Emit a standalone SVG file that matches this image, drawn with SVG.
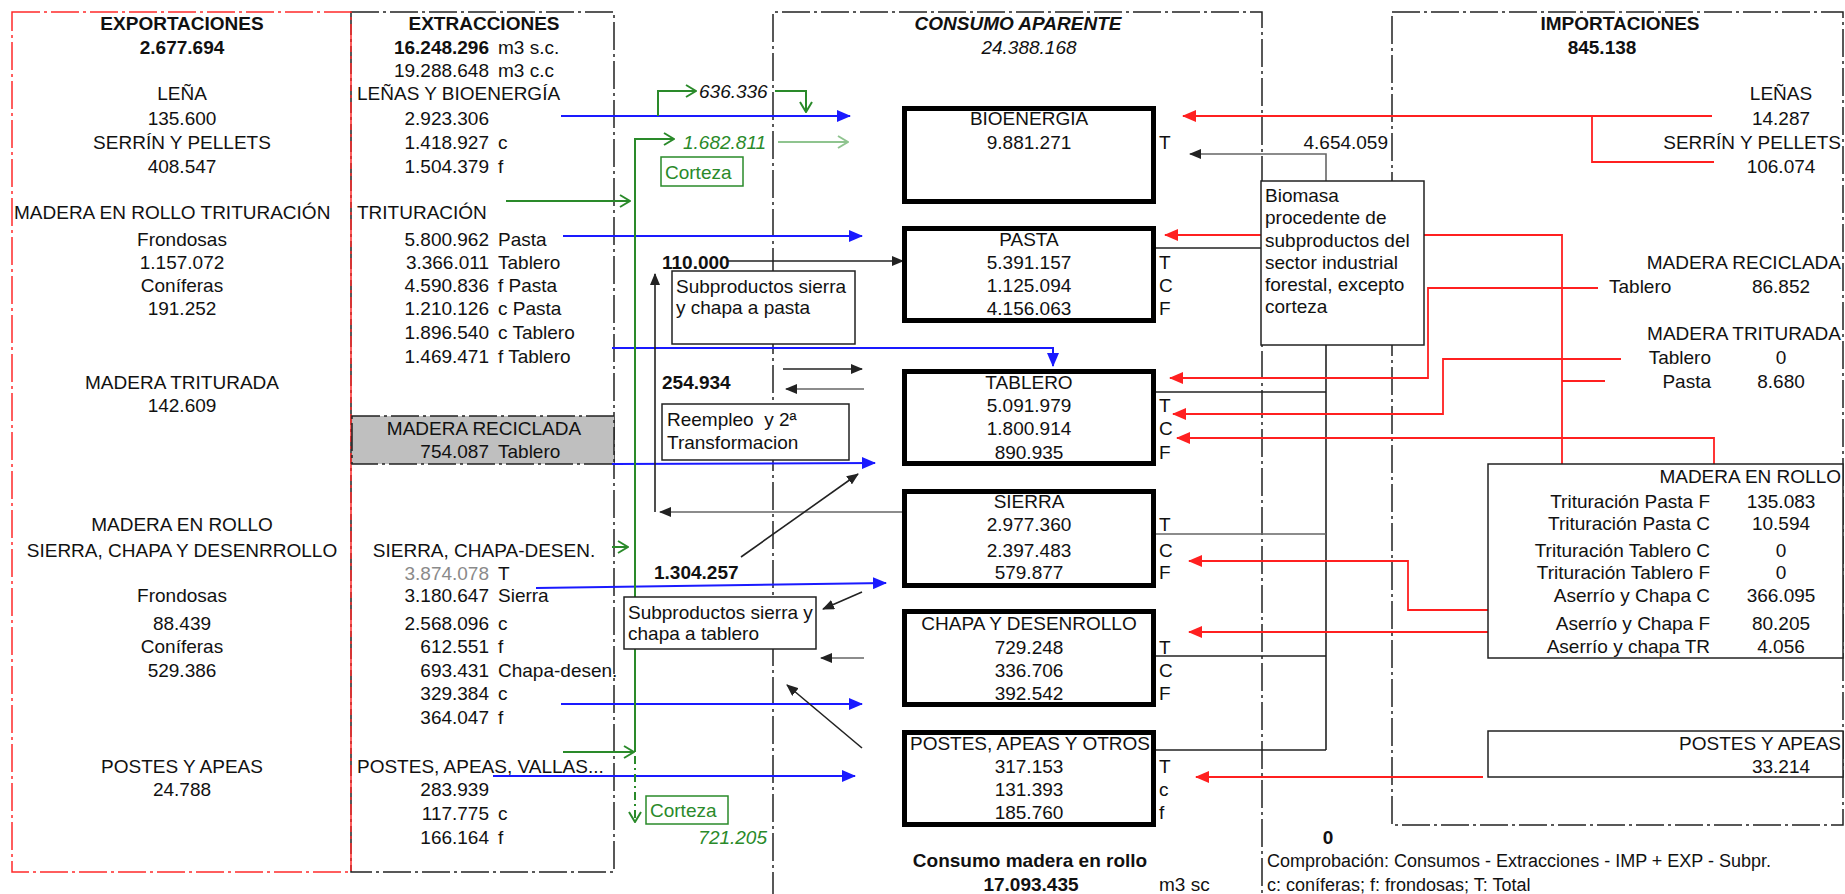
<svg xmlns="http://www.w3.org/2000/svg" width="1845" height="894" viewBox="0 0 1845 894">
<style>
text{font-family:"Liberation Sans",Arial,sans-serif;font-size:19px;fill:#111}
.b{font-weight:bold}
.i{font-style:italic}
.m{text-anchor:middle}
.e{text-anchor:end}
.s{font-size:18px}
.g{fill:#2a8a2a}
.gray{fill:#8a8a8a}
.frame{fill:none;stroke:#222;stroke-width:1.5;stroke-dasharray:28 4 3 4}
.rframe{fill:none;stroke:#ff2a2a;stroke-width:1.5;stroke-dasharray:28 4 3 4}
.thick{fill:#fff;stroke:#000;stroke-width:5}
.lbl{fill:#fff;stroke:#222;stroke-width:1.5}
.gbox{fill:#fff;stroke:#2a8a2a;stroke-width:1.5}
.blue{fill:none;stroke:#1a1aff;stroke-width:2;marker-end:url(#ab)}
.red{fill:none;stroke:#ff2020;stroke-width:1.8}
.blk{fill:none;stroke:#222;stroke-width:1.6}
.blkA{marker-end:url(#ak)}
.gry{stroke:#666}
.grn{fill:none;stroke:#2a8a2a;stroke-width:2}
.grnA{marker-end:url(#ag)}
</style>
<defs>
<marker id="ab" markerUnits="userSpaceOnUse" markerWidth="14" markerHeight="12" viewBox="0 0 14 12" refX="13" refY="6" orient="auto"><path d="M0,0 L14,6 L0,12 z" fill="#1a1aff"/></marker>
<marker id="ar" markerUnits="userSpaceOnUse" markerWidth="14" markerHeight="12" viewBox="0 0 14 12" refX="13" refY="6" orient="auto"><path d="M0,0 L14,6 L0,12 z" fill="#ff2020"/></marker>
<marker id="ak" markerUnits="userSpaceOnUse" markerWidth="12" markerHeight="10" viewBox="0 0 12 10" refX="11" refY="5" orient="auto"><path d="M0,0 L12,5 L0,10 z" fill="#222"/></marker>
<marker id="ag" markerUnits="userSpaceOnUse" markerWidth="12" markerHeight="14" viewBox="0 0 12 14" refX="11" refY="7" orient="auto"><path d="M1,1 L11,7 L1,13" fill="none" stroke="#2a8a2a" stroke-width="2"/></marker>
<marker id="agl" markerUnits="userSpaceOnUse" markerWidth="12" markerHeight="14" viewBox="0 0 12 14" refX="11" refY="7" orient="auto"><path d="M1,1 L11,7 L1,13" fill="none" stroke="#8fc48f" stroke-width="2"/></marker>
</defs>
<rect width="1845" height="894" fill="#fff"/>

<g id="frames">
<rect class="frame" x="351" y="12" width="263" height="860"/>
<rect class="rframe" x="12" y="12" width="339" height="860"/>
<path class="frame" d="M773,900 V12 H1262 V900"/>
<rect class="frame" x="1392" y="12" width="451" height="813"/>
</g>

<g id="exportaciones">
<text class="b m" x="182" y="29.5">EXPORTACIONES</text>
<text class="b m" x="182" y="53.5">2.677.694</text>
<text class="m" x="182" y="99.5">LEÑA</text>
<text class="m" x="182" y="124.5">135.600</text>
<text class="m" x="182" y="148.5">SERRÍN Y PELLETS</text>
<text class="m" x="182" y="172.5">408.547</text>
<text x="14" y="218.5">MADERA EN ROLLO TRITURACIÓN</text>
<text class="m" x="182" y="245.5">Frondosas</text>
<text class="m" x="182" y="268.5">1.157.072</text>
<text class="m" x="182" y="291.5">Coníferas</text>
<text class="m" x="182" y="314.5">191.252</text>
<text class="m" x="182" y="388.5">MADERA TRITURADA</text>
<text class="m" x="182" y="411.5">142.609</text>
<text class="m" x="182" y="530.5">MADERA EN ROLLO</text>
<text class="m" x="182" y="556.5">SIERRA, CHAPA Y DESENRROLLO</text>
<text class="m" x="182" y="601.5">Frondosas</text>
<text class="m" x="182" y="629.5">88.439</text>
<text class="m" x="182" y="652.5">Coníferas</text>
<text class="m" x="182" y="676.5">529.386</text>
<text class="m" x="182" y="772.5">POSTES Y APEAS</text>
<text class="m" x="182" y="795.5">24.788</text>
</g>

<g id="extracciones">
<text class="b m" x="484" y="29.5">EXTRACCIONES</text>
<text class="b e" x="489" y="53.5">16.248.296</text><text x="498" y="53.5">m3 s.c.</text>
<text class="e" x="489" y="76.5">19.288.648</text><text x="498" y="76.5">m3 c.c</text>
<text x="357" y="99.5">LEÑAS Y BIOENERGÍA</text>
<text class="e" x="489" y="124.5">2.923.306</text>
<text class="e" x="489" y="148.5">1.418.927</text><text x="498" y="148.5">c</text>
<text class="e" x="489" y="172.5">1.504.379</text><text x="498" y="172.5">f</text>
<text x="357" y="218.5">TRITURACIÓN</text>
<text class="e" x="489" y="245.5">5.800.962</text><text x="498" y="245.5">Pasta</text>
<text class="e" x="489" y="268.5">3.366.011</text><text x="498" y="268.5">Tablero</text>
<text class="e" x="489" y="291.5">4.590.836</text><text x="498" y="291.5">f Pasta</text>
<text class="e" x="489" y="314.5">1.210.126</text><text x="498" y="314.5">c Pasta</text>
<text class="e" x="489" y="338.5">1.896.540</text><text x="498" y="338.5">c Tablero</text>
<text class="e" x="489" y="362.5">1.469.471</text><text x="498" y="362.5">f Tablero</text>
<text class="m" x="484" y="556.5">SIERRA, CHAPA-DESEN.</text>
<text class="e gray" x="489" y="579.5">3.874.078</text><text x="498" y="579.5">T</text>
<text class="e" x="489" y="601.5">3.180.647</text><text x="498" y="601.5">Sierra</text>
<text class="e" x="489" y="629.5">2.568.096</text><text x="498" y="629.5">c</text>
<text class="e" x="489" y="652.5">612.551</text><text x="498" y="652.5">f</text>
<text class="e" x="489" y="676.5">693.431</text><text x="498" y="676.5">Chapa-desen.</text>
<text class="e" x="489" y="699.5">329.384</text><text x="498" y="699.5">c</text>
<text class="e" x="489" y="723.5">364.047</text><text x="498" y="723.5">f</text>
<text x="357" y="772.5">POSTES, APEAS, VALLAS...</text>
<text class="e" x="489" y="795.5">283.939</text>
<text class="e" x="489" y="819.5">117.775</text><text x="498" y="819.5">c</text>
<text class="e" x="489" y="843.5">166.164</text><text x="498" y="843.5">f</text>
</g>

<g id="madera-reciclada">
<rect x="352" y="416" width="262" height="48" fill="#bfbfbf" stroke="#222" stroke-width="1.5" stroke-dasharray="28 4 3 4"/>
<text class="m" x="484" y="434.5">MADERA RECICLADA</text>
<text class="e" x="489" y="457.5">754.087</text><text x="498" y="457.5">Tablero</text>
</g>

<g id="connectors">
<path class="blue" d="M561,116 H850"/>
<path class="blue" d="M563,236 H862"/>
<path class="blue" d="M612,348 H1053 V366"/>
<path class="blue" d="M612,464 L875,463"/>
<path class="blue" d="M536,588 L886,583"/>
<path class="blue" d="M561,704 H862"/>
<path class="blue" d="M493,776 H855"/>
<path class="grn grnA" d="M658,116 V91 H696"/>
<path class="grn grnA" d="M775,91 H806 V112"/>
<path class="grn grnA" d="M635,752 V139 H674"/>
<path class="grn grnA" d="M506,201 H630"/>
<path class="grn grnA" d="M612,547 H628"/>
<path class="grn grnA" d="M563,752 H634"/>
<path class="grn grnA" d="M635,756 V822" stroke-dasharray="8 4 2 4"/>
<path fill="none" stroke="#8fc48f" stroke-width="2" marker-end="url(#agl)" d="M778,142 H848"/>
<path class="blk blkA" d="M728,261 H903"/>
<path class="blk blkA gry" d="M902,512 H660"/>
<path class="blk blkA" d="M655,512 V274"/>
<path class="blk blkA" d="M783,369 H862"/>
<path class="blk blkA gry" d="M864,389 H786"/>
<path class="blk blkA" d="M741,557 L858,474"/>
<path class="blk blkA" d="M862,592 L823,609"/>
<path class="blk blkA gry" d="M864,658 H821"/>
<path class="blk blkA" d="M862,748 L787,685"/>
<path class="blk blkA gry" d="M1326,181 V154 H1190"/>
<path class="blk" d="M1156,248 H1261"/>
<path class="blk" d="M1326,345 V750"/>
<path class="blk" d="M1156,392 H1326"/>
<path class="blk gry" d="M1156,534 H1326"/>
<path class="blk" d="M1156,656 H1326"/>
<path class="blk" d="M1156,750 H1326"/>
<path class="red" d="M1712,116 H1183" marker-end="url(#ar)"/>
<path class="red" d="M1592,116 V162 H1714"/>
<path class="red" d="M1562,464 V235 H1165" marker-end="url(#ar)"/>
<path class="red" d="M1562,381 H1605"/>
<path class="red" d="M1598,288 H1428 V378 H1170" marker-end="url(#ar)"/>
<path class="red" d="M1621,359 H1443 V414 H1173" marker-end="url(#ar)"/>
<path class="red" d="M1714,464 V438 H1177" marker-end="url(#ar)"/>
<path class="red" d="M1488,610 H1408 V561 H1189" marker-end="url(#ar)"/>
<path class="red" d="M1488,632 H1189" marker-end="url(#ar)"/>
<path class="red" d="M1483,777 H1196" marker-end="url(#ar)"/>
</g>

<g id="consumo">
<text class="b i m" x="1018" y="29.5">CONSUMO APARENTE</text>
<text class="i m" x="1029" y="53.5">24.388.168</text>
<text class="b m" x="1030" y="866.5">Consumo madera en rollo</text>
<text class="b m" x="1031" y="890.5">17.093.435</text>
<text x="1159" y="890.5">m3 sc</text>
</g>

<g id="bioenergia">
<rect class="thick" x="904.5" y="108.5" width="249" height="93"/>
<text class="m" x="1029" y="124.5">BIOENERGIA</text>
<text class="m" x="1029" y="148.5">9.881.271</text>
<text x="1159" y="148.5">T</text>
</g>

<g id="pasta">
<rect class="thick" x="904.5" y="228.5" width="249" height="92"/>
<text class="m" x="1029" y="245.5">PASTA</text>
<text class="m" x="1029" y="268.5">5.391.157</text>
<text class="m" x="1029" y="291.5">1.125.094</text>
<text class="m" x="1029" y="314.5">4.156.063</text>
<text x="1159" y="268.5">T</text><text x="1159" y="291.5">C</text><text x="1159" y="314.5">F</text>
</g>

<g id="tablero">
<rect class="thick" x="904.5" y="371.5" width="249" height="92"/>
<text class="m" x="1029" y="388.5">TABLERO</text>
<text class="m" x="1029" y="411.5">5.091.979</text>
<text class="m" x="1029" y="434.5">1.800.914</text>
<text class="m" x="1029" y="458.5">890.935</text>
<text x="1159" y="411.5">T</text><text x="1159" y="434.5">C</text><text x="1159" y="458.5">F</text>
</g>

<g id="sierra">
<rect class="thick" x="904.5" y="491.5" width="249" height="94"/>
<text class="m" x="1029" y="507.5">SIERRA</text>
<text class="m" x="1029" y="530.5">2.977.360</text>
<text class="m" x="1029" y="556.5">2.397.483</text>
<text class="m" x="1029" y="578.5">579.877</text>
<text x="1159" y="530.5">T</text><text x="1159" y="556.5">C</text><text x="1159" y="578.5">F</text>
</g>

<g id="chapa">
<rect class="thick" x="904.5" y="611.5" width="249" height="93"/>
<text class="m" x="1029" y="629.5">CHAPA Y DESENROLLO</text>
<text class="m" x="1029" y="653.5">729.248</text>
<text class="m" x="1029" y="676.5">336.706</text>
<text class="m" x="1029" y="699.5">392.542</text>
<text x="1159" y="653.5">T</text><text x="1159" y="676.5">C</text><text x="1159" y="699.5">F</text>
</g>

<g id="postes">
<rect class="thick" x="904.5" y="732.5" width="249" height="92"/>
<text class="m" x="1030" y="749.5">POSTES, APEAS Y OTROS</text>
<text class="m" x="1029" y="772.5">317.153</text>
<text class="m" x="1029" y="795.5">131.393</text>
<text class="m" x="1029" y="818.5">185.760</text>
<text x="1159" y="772.5">T</text><text x="1159" y="795.5">c</text><text x="1159" y="818.5">f</text>
</g>

<g id="labels-green">
<text class="i" x="699" y="97.5" fill="#333">636.336</text>
<text class="i g" x="683" y="148.5">1.682.811</text>
<g id="corteza-1"><rect class="gbox" x="661" y="157" width="82" height="29"/><text class="g" x="665" y="178.5">Corteza</text></g>
<g id="corteza-2"><rect class="gbox" x="646" y="796" width="82" height="28"/><text class="g" x="650" y="816.5">Corteza</text></g>
<text class="i g e" x="767" y="843.5">721.205</text>
</g>

<g id="subproductos-pasta">
<rect class="lbl" x="672" y="271" width="183" height="73"/>
<text x="676" y="292.5">Subproductos sierra</text>
<text x="676" y="313.5">y chapa a pasta</text>
</g>
<g id="reempleo">
<rect class="lbl" x="662" y="404" width="187" height="56"/>
<text x="667" y="425.5">Reempleo&#160; y 2ª</text>
<text x="667" y="448.5">Transformacion</text>
</g>
<g id="subproductos-tablero">
<rect class="lbl" x="624" y="597" width="192" height="52"/>
<text x="628" y="618.5">Subproductos sierra y</text>
<text x="628" y="639.5">chapa a tablero</text>
</g>
<g id="flow-values">
<text class="b" x="662" y="268.5">110.000</text>
<text class="b" x="662" y="388.5">254.934</text>
<text class="b" x="654" y="578.5">1.304.257</text>
</g>

<g id="biomasa">
<rect class="lbl" x="1261" y="181" width="163" height="164"/>
<text x="1265" y="201.5">Biomasa</text>
<text x="1265" y="224">procedente de</text>
<text x="1265" y="246.5">subproductos del</text>
<text x="1265" y="268.5">sector industrial</text>
<text x="1265" y="290.5">forestal, excepto</text>
<text x="1265" y="312.5">corteza</text>
<text class="e" x="1388" y="148.5">4.654.059</text>
</g>

<g id="importaciones">
<text class="b m" x="1620" y="29.5">IMPORTACIONES</text>
<text class="b m" x="1602" y="53.5">845.138</text>
<text class="m" x="1781" y="99.5">LEÑAS</text>
<text class="m" x="1781" y="124.5">14.287</text>
<text class="e" x="1841" y="148.5">SERRÍN Y PELLETS</text>
<text class="m" x="1781" y="172.5">106.074</text>
<text class="e" x="1841" y="268.5">MADERA RECICLADA</text>
<text x="1609" y="292.5">Tablero</text><text class="m" x="1781" y="292.5">86.852</text>
<text class="e" x="1841" y="339.5">MADERA TRITURADA</text>
<text class="e" x="1711" y="363.5">Tablero</text><text class="m" x="1781" y="363.5">0</text>
<text class="e" x="1711" y="387.5">Pasta</text><text class="m" x="1781" y="387.5">8.680</text>
</g>

<g id="imp-madera-en-rollo">
<rect class="lbl" x="1488" y="464" width="355" height="194"/>
<text class="e" x="1841" y="482.5">MADERA EN ROLLO</text>
<text class="e" x="1710" y="507.5">Trituración Pasta F</text><text class="m" x="1781" y="507.5">135.083</text>
<text class="e" x="1710" y="529.5">Trituración Pasta C</text><text class="m" x="1781" y="529.5">10.594</text>
<text class="e" x="1710" y="556.5">Trituración Tablero C</text><text class="m" x="1781" y="556.5">0</text>
<text class="e" x="1710" y="578.5">Trituración Tablero F</text><text class="m" x="1781" y="578.5">0</text>
<text class="e" x="1710" y="601.5">Aserrío y Chapa C</text><text class="m" x="1781" y="601.5">366.095</text>
<text class="e" x="1710" y="629.5">Aserrío y Chapa F</text><text class="m" x="1781" y="629.5">80.205</text>
<text class="e" x="1710" y="652.5">Aserrío y chapa TR</text><text class="m" x="1781" y="652.5">4.056</text>
</g>

<g id="imp-postes">
<rect class="lbl" x="1488" y="731" width="355" height="46"/>
<text class="e" x="1841" y="749.5">POSTES Y APEAS</text>
<text class="m" x="1781" y="772.5">33.214</text>
</g>

<g id="comprobacion">
<text class="b m" x="1328" y="843.5">0</text>
<text class="s" x="1267" y="866.5">Comprobación: Consumos - Extracciones - IMP + EXP - Subpr.</text>
<text class="s" x="1267" y="890.5">c: coníferas; f: frondosas; T: Total</text>
</g>
</svg>
